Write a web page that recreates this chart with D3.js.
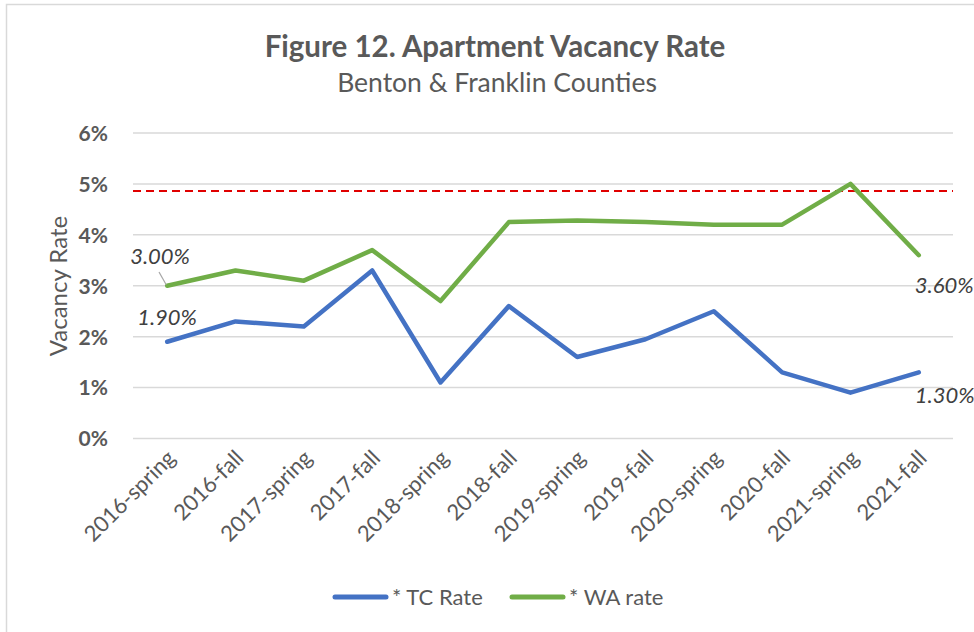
<!DOCTYPE html>
<html><head><meta charset="utf-8">
<script src="https://cdn.jsdelivr.net/npm/d3@7"></script>
<style>
html,body{margin:0;padding:0;background:#fff;}
svg{display:block;font-family:Lato,"Open Sans",sans-serif;}
</style></head>
<body>
<svg id="chart" width="974" height="632"></svg>
<script>
const categories = ["2016-spring","2016-fall","2017-spring","2017-fall","2018-spring","2018-fall","2019-spring","2019-fall","2020-spring","2020-fall","2021-spring","2021-fall"];
const tcRate = [1.90, 2.30, 2.20, 3.30, 1.10, 2.60, 1.60, 1.95, 2.50, 1.30, 0.90, 1.30];
const waRate = [3.00, 3.30, 3.10, 3.70, 2.70, 4.25, 4.28, 4.25, 4.20, 4.20, 5.00, 3.60];
const yTicks = [0, 1, 2, 3, 4, 5, 6];
const refLine = 4.86;
const seriesNames = ["* TC Rate", "* WA rate"];

const svg = d3.select("#chart");
const textGrey = "#595959";
const blue = "#4472C4", green = "#70AD47";

// outer border
svg.append("rect").attr("x",6.5).attr("y",4.5).attr("width",1100).attr("height",1100)
  .attr("fill","none").attr("stroke","#d9d9d9").attr("stroke-width",1.5);

const x = d3.scalePoint().domain(categories).range([167.2, 918.8]);
const y = d3.scaleLinear().domain([0, 6]).range([438.5, 133]);
const plotL = 133, plotR = 953;

// gridlines
svg.append("g").selectAll("line").data(yTicks).join("line")
  .attr("x1",plotL).attr("x2",plotR).attr("y1",d=>y(d)).attr("y2",d=>y(d))
  .attr("stroke","#d9d9d9").attr("stroke-width",1.5);

// y axis labels
const yAxis = d3.axisLeft(y).tickValues(yTicks).tickFormat(d=>d+"%").tickSize(0).tickPadding(0);
const ya = svg.append("g").attr("transform","translate(108,0)").call(yAxis);
ya.select(".domain").remove();
ya.selectAll("text").attr("font-family","Lato, sans-serif").attr("font-size",21).attr("font-weight","bold")
  .attr("fill",textGrey).attr("dy","0.35em");

// x axis labels
const xAxis = d3.axisBottom(x).tickSize(0).tickPadding(0);
const xa = svg.append("g").attr("transform","translate(0,438.5)").call(xAxis);
xa.select(".domain").remove();
xa.selectAll("text").attr("font-family","Lato, sans-serif").attr("font-size",22).attr("fill",textGrey)
  .attr("text-anchor","end").attr("dy",0).attr("y",0)
  .attr("transform","translate(9,21) rotate(-45)");

// reference dashed line
svg.append("line").attr("x1",plotL).attr("x2",plotR).attr("y1",y(refLine)).attr("y2",y(refLine))
  .attr("stroke","#E00000").attr("stroke-width",2).attr("stroke-dasharray","8,5");

// lines
const line = d3.line().x((d,i)=>x(categories[i])).y(d=>y(d));
svg.append("path").datum(waRate).attr("d",line).attr("fill","none").attr("stroke",green)
  .attr("stroke-width",4.5).attr("stroke-linejoin","round").attr("stroke-linecap","round");
svg.append("path").datum(tcRate).attr("d",line).attr("fill","none").attr("stroke",blue)
  .attr("stroke-width",4.5).attr("stroke-linejoin","round").attr("stroke-linecap","round");

// data labels
const fmt = d=>d.toFixed(2)+"%";
const labelStyle = s=>s.attr("font-family","Lato, sans-serif").attr("font-size",22).attr("font-style","italic").attr("fill","#404040");
const last = categories.length-1;
svg.append("line").attr("x1",159).attr("y1",272).attr("x2",x(categories[0])-1).attr("y2",y(waRate[0])-1)
  .attr("stroke","#a6a6a6").attr("stroke-width",1.2);
svg.append("text").attr("x",x(categories[0])-37).attr("y",y(waRate[0])-22).text(fmt(waRate[0])).call(labelStyle);
svg.append("text").attr("x",x(categories[0])-30).attr("y",y(tcRate[0])-17).text(fmt(tcRate[0])).call(labelStyle);
svg.append("text").attr("x",x(categories[last])-4).attr("y",y(waRate[last])+38).text(fmt(waRate[last])).call(labelStyle);
svg.append("text").attr("x",x(categories[last])-4).attr("y",y(tcRate[last])+31).text(fmt(tcRate[last])).call(labelStyle);

// y axis title
svg.append("text").attr("transform","translate(67,286) rotate(-90)").attr("text-anchor","middle")
  .attr("font-family","Lato, sans-serif").attr("font-size",24).attr("fill",textGrey).text("Vacancy Rate");

// title
svg.append("text").attr("x",495).attr("y",57).attr("text-anchor","middle")
  .attr("font-family","Lato, sans-serif").attr("font-size",29.5).attr("font-weight","bold").attr("fill",textGrey)
  .text("Figure 12. Apartment Vacancy Rate");
svg.append("text").attr("x",497).attr("y",92).attr("text-anchor","middle")
  .attr("font-family","Lato, sans-serif").attr("font-size",26.5).attr("fill",textGrey)
  .text("Benton & Franklin Counties");

// legend
const legX = [333, 510];
const leg = svg.append("g").selectAll("g").data(seriesNames).join("g")
  .attr("transform",(d,i)=>`translate(${legX[i]},597)`);
leg.append("line").attr("x1",2).attr("x2",53).attr("y1",0).attr("y2",0)
  .attr("stroke",(d,i)=>[blue,green][i]).attr("stroke-width",5).attr("stroke-linecap","round");
leg.append("text").attr("x",59).attr("y",0).attr("dy","0.35em")
  .attr("font-family","Lato, sans-serif").attr("font-size",22).attr("fill",textGrey).text(d=>d);
</script>
</body></html>
